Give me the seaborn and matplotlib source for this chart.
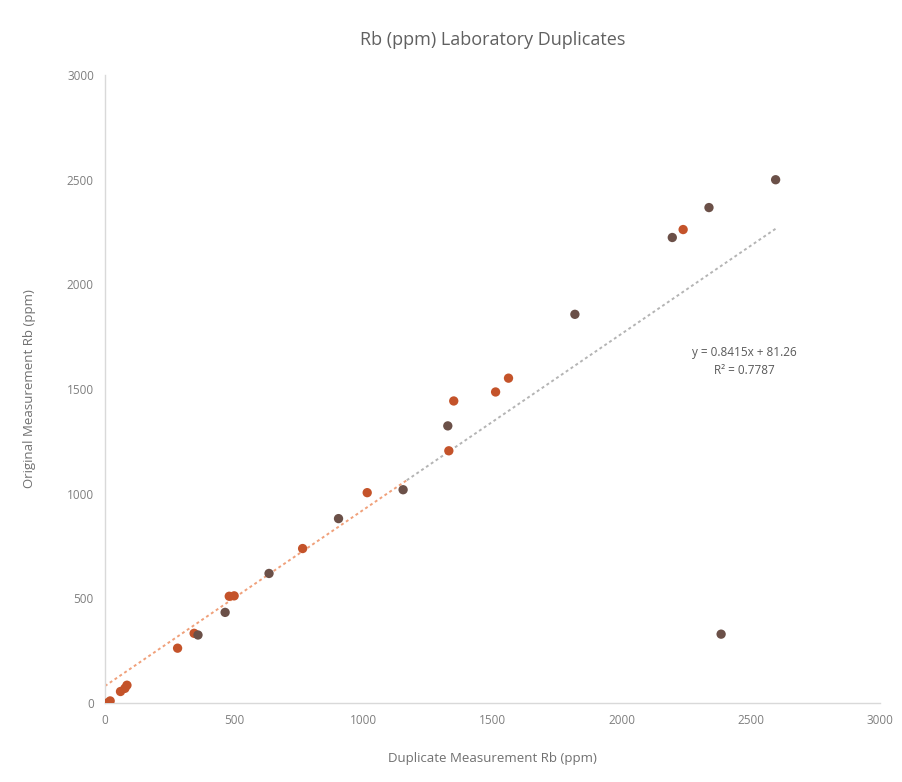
import numpy as np
import pandas as pd
import matplotlib
matplotlib.use("Agg")
import matplotlib.pyplot as plt
import seaborn as sns

# Data
duplicate = [8, 20, 60, 77, 85, 281, 345, 360, 465, 481, 500, 635, 765, 904, 1015,
             1154, 1331, 1327, 1350, 1512, 1562, 1819, 2196, 2238, 2338, 2596, 2385]
original = [0, 10, 55, 70, 85, 262, 333, 325, 433, 510, 512, 619, 738, 881, 1005,
            1019, 1205, 1324, 1443, 1486, 1552, 1857, 2224, 2262, 2367, 2500, 329]
group = ["a", "a", "a", "a", "a", "a", "a", "b", "b", "a", "a", "b", "a", "b", "a",
         "b", "a", "b", "a", "a", "a", "b", "b", "a", "b", "b", "b"]
slope = 0.8415
intercept = 81.26
eq_text = "y = 0.8415x + 81.26\nR² = 0.7787"
x_ticks = [0, 500, 1000, 1500, 2000, 2500, 3000]
y_ticks = [0, 500, 1000, 1500, 2000, 2500, 3000]

df = pd.DataFrame({"dup": duplicate, "orig": original, "grp": group})

sns.set_theme(style="white")
plt.rcParams["font.family"] = ["Open Sans", "DejaVu Sans"]

fig = plt.figure(figsize=(9.02, 7.82), dpi=100)
ax = fig.add_axes([0.1164, 0.101, 0.8592, 0.803])

# linear trendline (appears orange-tinted in the lower part, grey above)
xmax = max(duplicate[:-1])
tx1 = np.linspace(0, 0.45 * xmax, 2)
tx2 = np.linspace(0.45 * xmax, xmax, 2)
ax.plot(tx1, slope * tx1 + intercept, ls=(0, (1.5, 1.5)), color="#f0a07a", lw=1.4, zorder=2)
ax.plot(tx2, slope * tx2 + intercept, ls=(0, (1.5, 1.5)), color="#b4b4b4", lw=1.4, zorder=2)

sns.scatterplot(data=df, x="dup", y="orig", hue="grp",
                palette={"a": "#c4532a", "b": "#6b5048"}, s=45, edgecolor="none",
                ax=ax, legend=False, zorder=3)

ax.set_xlim(0, 3000)
ax.set_ylim(0, 3000)
ax.set_xticks(x_ticks)
ax.set_yticks(y_ticks)
ax.tick_params(axis="both", labelsize=8.5, colors="#7f7f7f", length=0, pad=8)
for s in ["top", "right"]:
    ax.spines[s].set_visible(False)
for s in ["left", "bottom"]:
    ax.spines[s].set_color("#d9d9d9")
    ax.spines[s].set_linewidth(1.0)

ax.set_xlabel("Duplicate Measurement Rb (ppm)", fontsize=9.5, color="#707070", labelpad=18)
ax.set_ylabel("Original Measurement Rb (ppm)", fontsize=9.5, color="#707070", labelpad=22)
ax.set_title("Rb (ppm) Laboratory Duplicates", fontsize=13, color="#606060", pad=22)

ax.text(2474, 1630, eq_text, ha="center", va="center", fontsize=8.5,
        color="#595959", linespacing=1.5)

fig.savefig("out.png", dpi=100, facecolor="white")
